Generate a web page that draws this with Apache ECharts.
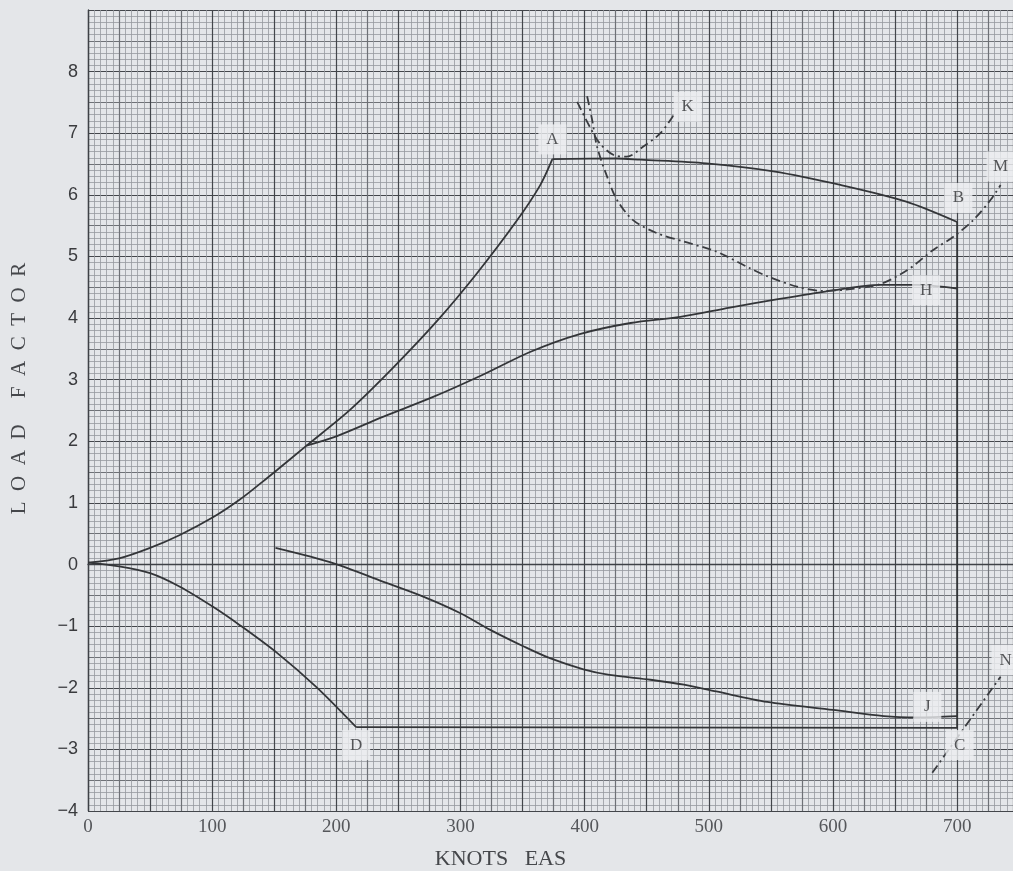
<!DOCTYPE html>
<html>
<head>
<meta charset="utf-8">
<title>Load factor vs knots EAS</title>
<script src="https://cdn.jsdelivr.net/npm/echarts@6/dist/echarts.min.js"></script>
<style>
  html, body { margin: 0; padding: 0; background: #e4e6e9; }
  #chart { width: 1013px; height: 871px; }
</style>
</head>
<body>
<div id="chart"></div>
<script>
// values: [knots EAS, load factor]
const posStall = [[0, 0.03], [25, 0.10], [50, 0.27], [74, 0.48], [101, 0.77], [122, 1.05], [141, 1.35], [152, 1.53],
  [176, 1.93], [211, 2.51], [246, 3.20], [281, 3.95], [313, 4.72], [345, 5.57], [364, 6.15], [374, 6.58]];
const topAB = [[374, 6.58], [426, 6.59], [445, 6.57], [498, 6.51], [552, 6.38], [606, 6.16], [659, 5.89], [700, 5.56]];
const edgeBCD = [[700, 5.56], [700, -2.65], [216, -2.64]];
const negStall = [[0, 0.03], [25, -0.03], [50, -0.14], [74, -0.36], [101, -0.69], [122, -0.98], [152, -1.43], [184, -1.99], [216, -2.64]];
const curveH = [[176, 1.93], [200, 2.08], [238, 2.40], [278, 2.72], [318, 3.08], [356, 3.45], [396, 3.74], [437, 3.92],
  [477, 4.02], [517, 4.17], [557, 4.31], [600, 4.45], [638, 4.54], [668, 4.54], [700, 4.48]];
const curveJ = [[151, 0.27], [198, 0.02], [238, -0.28], [270, -0.52], [300, -0.79], [324, -1.06], [351, -1.33], [372, -1.52],
  [399, -1.70], [420, -1.79], [453, -1.87], [480, -1.95], [506, -2.06], [547, -2.23], [600, -2.36], [641, -2.46], [668, -2.48], [700, -2.46]];
const curveK = [[394, 7.51], [404, 7.11], [412, 6.84], [423, 6.65], [434, 6.62], [447, 6.78], [461, 7.00], [473, 7.33]];
const curveM = [[402, 7.60], [406, 7.22], [410, 6.78], [418, 6.30], [426, 5.92], [439, 5.59], [458, 5.38], [480, 5.24],
  [506, 5.08], [533, 4.81], [547, 4.68], [571, 4.51], [592, 4.44], [614, 4.47], [638, 4.55], [660, 4.78], [681, 5.11],
  [697, 5.32], [713, 5.59], [727, 5.92], [735, 6.16]];
const lineN = [[680, -3.38], [735, -1.82]];

// point letters and where they sit
const labelNames = ['A', 'K', 'M', 'B', 'H', 'J', 'C', 'D', 'N'];
const labelKnots = [374, 483, 735, 701, 675, 676, 702, 216, 739];
const labelLoads = [6.90, 7.43, 6.46, 5.95, 4.45, -2.31, -2.93, -2.93, -1.55];

const xTicks = [0, 100, 200, 300, 400, 500, 600, 700];
const yTicks = [-4, -3, -2, -1, 0, 1, 2, 3, 4, 5, 6, 7, 8];

const chart = echarts.init(document.getElementById('chart'));

const solid = { color: '#333538', width: 1.8 };
const dashDot = { color: '#3a3c40', width: 1.8, type: [9, 4, 2, 4] };

function curve(name, data, style, smooth) {
  return {
    name, type: 'line', data, symbol: 'none', silent: true, z: 3,
    smooth: smooth ? 0.3 : false, lineStyle: style
  };
}

const labelData = labelNames.map((n, i) => [labelKnots[i], labelLoads[i], n]);

const option = {
  backgroundColor: '#e4e6e9',
  animation: false,
  grid: { left: 88, right: 0, top: 10, bottom: 60, containLabel: false, outerBoundsMode: 'none' },
  xAxis: {
    type: 'value', min: 0, max: 745, interval: 25,
    axisLine: { show: true, lineStyle: { color: '#3e4146', width: 1.4 } },
    axisTick: { show: false },
    axisLabel: {
      formatter: v => xTicks.indexOf(v) >= 0 ? String(v) : '',
      fontFamily: 'Liberation Serif', fontSize: 19, color: '#55575b', margin: 7
    },
    splitLine: { show: true, lineStyle: { color: ['#43464b', '#6e7176'], width: 1.2 } },
    minorTick: { show: false, splitNumber: 5 },
    minorSplitLine: { show: true, lineStyle: { color: '#96999e', width: 0.8 } },
    name: 'KNOTS   EAS', nameLocation: 'middle', nameGap: 37,
    nameTextStyle: { fontFamily: 'Liberation Serif', fontSize: 22, color: '#45474b', padding: [0, 100, 0, 0] }
  },
  yAxis: {
    type: 'value', min: -4, max: 9, interval: 0.5,
    axisLine: { show: true, lineStyle: { color: '#3e4146', width: 1.4 } },
    axisTick: { show: false },
    axisLabel: {
      formatter: v => yTicks.indexOf(v) >= 0 ? (v < 0 ? '\u2212' + (-v) : String(v)) : '',
      fontFamily: 'Liberation Sans', fontSize: 18, color: '#3a3b3e', margin: 10
    },
    splitLine: { show: true, lineStyle: { color: ['#43464b', '#6e7176'], width: 1.2 } },
    minorTick: { show: false, splitNumber: 5 },
    minorSplitLine: { show: true, lineStyle: { color: '#96999e', width: 0.8 } },
    name: 'L  O  A  D     F  A  C  T  O  R', nameLocation: 'middle', nameGap: 58, nameRotate: 90,
    nameTextStyle: { fontFamily: 'Liberation Serif', fontSize: 21, color: '#45474b', padding: [0, 0, 0, 44] }
  },
  series: [
    curve('stall +', posStall, solid, true),
    curve('A-B', topAB, solid, true),
    curve('B-C-D', edgeBCD, solid, false),
    curve('stall -', negStall, solid, true),
    curve('H', curveH, solid, true),
    curve('J', curveJ, solid, true),
    curve('K', curveK, dashDot, true),
    curve('M', curveM, dashDot, true),
    curve('N', lineN, dashDot, false),
    {
      type: 'scatter', data: labelData, silent: true, z: 5,
      symbol: 'rect', symbolSize: [28, 30],
      itemStyle: { color: '#eceef0' },
      label: {
        show: true, position: 'inside', formatter: p => p.data[2],
        fontFamily: 'Liberation Serif', fontSize: 17, color: '#2e2f32'
      }
    }
  ]
};

chart.setOption(option);
</script>
</body>
</html>
